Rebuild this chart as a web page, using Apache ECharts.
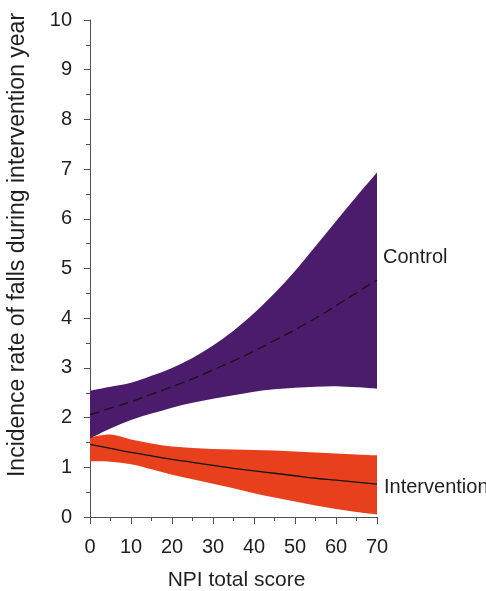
<!DOCTYPE html>
<html>
<head>
<meta charset="utf-8">
<script src="https://cdn.jsdelivr.net/npm/echarts@6/dist/echarts.min.js"></script>
<style>
  html, body { margin: 0; padding: 0; background: #ffffff; }
  #chart { width: 486px; height: 591px; }
</style>
</head>
<body>
<div id="chart"></div>
<script>
// NPI total score sample points
const npiScore = [0, 5, 10, 15, 20, 25, 30, 35, 40, 45, 50, 55, 60, 65, 70];

// Control group: fitted incidence rate and confidence band
const controlMean  = [2.06, 2.19, 2.32, 2.47, 2.62, 2.78, 2.96, 3.14, 3.34, 3.55, 3.77, 4.00, 4.25, 4.51, 4.77];
const controlLower = [1.58, 1.78, 1.95, 2.08, 2.20, 2.30, 2.38, 2.45, 2.52, 2.57, 2.60, 2.62, 2.63, 2.61, 2.58];
const controlUpper = [2.54, 2.62, 2.70, 2.84, 3.00, 3.20, 3.45, 3.75, 4.10, 4.50, 4.95, 5.45, 5.95, 6.45, 6.93];

// Intervention group: fitted incidence rate and confidence band
const interventionMean  = [1.46, 1.38, 1.30, 1.23, 1.16, 1.10, 1.04, 0.98, 0.93, 0.88, 0.83, 0.78, 0.74, 0.70, 0.66];
const interventionLower = [1.12, 1.11, 1.06, 0.96, 0.85, 0.76, 0.67, 0.58, 0.48, 0.39, 0.31, 0.23, 0.16, 0.10, 0.05];
const interventionUpper = [1.60, 1.66, 1.56, 1.48, 1.42, 1.39, 1.37, 1.36, 1.35, 1.34, 1.32, 1.30, 1.28, 1.26, 1.24];

const FONT = '"Liberation Sans", Arial, Helvetica, sans-serif';
const TEXT = '#1f1f1f';
const AXIS = '#505050';
const PURPLE = '#4b1c6b';
const RED = '#e8401c';

const toPairs = ys => npiScore.map((x, i) => [x, ys[i]]);

// Smooth path through pixel points (Catmull-Rom segments as cubic Beziers)
function curveTo(pts, moveFirst) {
  let d = (moveFirst ? 'M' : 'L') + pts[0][0] + ',' + pts[0][1];
  for (let i = 0; i < pts.length - 1; i++) {
    const p0 = pts[i - 1] || pts[i];
    const p1 = pts[i];
    const p2 = pts[i + 1];
    const p3 = pts[i + 2] || pts[i + 1];
    const c1 = [p1[0] + (p2[0] - p0[0]) / 6, p1[1] + (p2[1] - p0[1]) / 6];
    const c2 = [p2[0] - (p3[0] - p1[0]) / 6, p2[1] - (p3[1] - p1[1]) / 6];
    d += 'C' + c1[0] + ',' + c1[1] + ' ' + c2[0] + ',' + c2[1] + ' ' + p2[0] + ',' + p2[1];
  }
  return d;
}

// Confidence band drawn as one filled region between lower and upper bounds
function band(name, lo, hi, color) {
  return {
    name: name, type: 'custom', silent: true, z: 1,
    data: [0],
    renderItem: (params, api) => {
      const upper = npiScore.map((x, i) => api.coord([x, hi[i]]));
      const lower = npiScore.map((x, i) => api.coord([x, lo[i]])).reverse();
      const d = curveTo(upper, true) + curveTo(lower, false) + 'Z';
      return {
        type: 'path',
        shape: { pathData: d },
        style: { fill: color, stroke: null }
      };
    }
  };
}

const chart = echarts.init(document.getElementById('chart'), null, { renderer: 'canvas' });

chart.setOption({
  animation: false,
  backgroundColor: '#ffffff',
  grid: { left: 90, right: 109, top: 20, bottom: 74, outerBoundsMode: 'none', containLabel: false },
  xAxis: {
    type: 'value', min: 0, max: 70, interval: 10, offset: 5,
    axisLine: { show: true, lineStyle: { color: AXIS, width: 1 } },
    axisTick: { show: true, length: 7, lineStyle: { color: AXIS } },
    minorTick: { show: true, splitNumber: 2, length: 4, lineStyle: { color: AXIS } },
    splitLine: { show: false },
    axisLabel: { fontSize: 20, fontFamily: FONT, color: TEXT, margin: 15 },
    name: 'NPI total score', nameLocation: 'middle', nameGap: 48,
    nameTextStyle: { fontSize: 21, fontFamily: FONT, color: TEXT, padding: [0, 0, 0, 6] }
  },
  yAxis: {
    type: 'value', min: 0, max: 10, interval: 1, offset: 8,
    axisLine: { show: true, lineStyle: { color: AXIS, width: 1 } },
    axisTick: { show: true, length: 6, lineStyle: { color: AXIS } },
    minorTick: { show: true, splitNumber: 2, length: 4, lineStyle: { color: AXIS } },
    splitLine: { show: false },
    axisLabel: { fontSize: 20, fontFamily: FONT, color: TEXT, margin: 10 }
  },
  graphic: [
    {
      type: 'text', x: 18, y: 245, rotation: Math.PI / 2,
      style: {
        text: 'Incidence rate of falls during intervention year',
        font: '23px ' + FONT, fill: TEXT, align: 'center', verticalAlign: 'middle'
      }
    },
    {
      type: 'text', x: 383, y: 257,
      style: { text: 'Control', font: '20px ' + FONT, fill: TEXT, align: 'left', verticalAlign: 'middle' }
    },
    {
      type: 'text', x: 384, y: 487,
      style: { text: 'Intervention', font: '20px ' + FONT, fill: TEXT, align: 'left', verticalAlign: 'middle' }
    }
  ],
  series: [
    band('Intervention band', interventionLower, interventionUpper, RED),
    band('Control band', controlLower, controlUpper, PURPLE),
    {
      name: 'Control', type: 'line', smooth: true, data: toPairs(controlMean),
      symbol: 'none', silent: true, z: 3,
      lineStyle: { color: '#141414', width: 1.3, type: [10, 5] }
    },
    {
      name: 'Intervention', type: 'line', smooth: true, data: toPairs(interventionMean),
      symbol: 'none', silent: true, z: 3,
      lineStyle: { color: '#141414', width: 1.3 }
    }
  ]
});
</script>
</body>
</html>
